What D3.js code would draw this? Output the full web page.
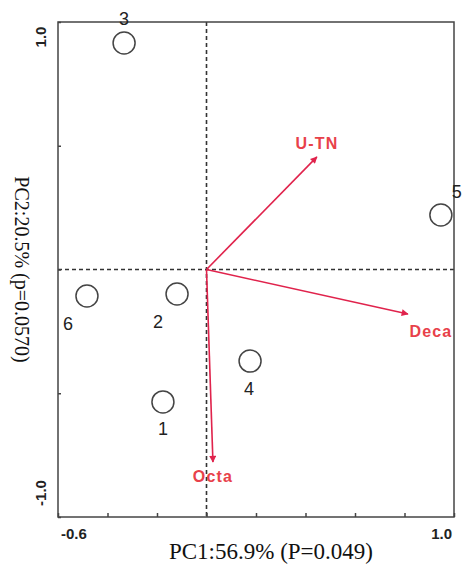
<!DOCTYPE html>
<html>
<head>
<meta charset="utf-8">
<script src="https://cdn.jsdelivr.net/npm/d3@7"></script>
<style>
  body { margin: 0; background: #fff; }
</style>
</head>
<body>
<div id="chart"></div>
<script>
// sample scores (PC1, PC2)
const sampleIds = ['1', '2', '3', '4', '5', '6'];
const samplePC1 = [-0.176, -0.119, -0.333, 0.176, 0.947, -0.483];
const samplePC2 = [-0.535, -0.099, 0.915, -0.37, 0.22, -0.107];

// environmental vectors
const vectorNames = ['U-TN', 'Deca', 'Octa'];
const vectorPC1 = [0.446, 0.814, 0.026];
const vectorPC2 = [0.455, -0.18, -0.778];

const xTicks = [-0.6, -0.4, -0.2, 0, 0.2, 0.4, 0.6, 0.8, 1.0];
const yTicks = [-1.0, -0.5, 0, 0.5, 1.0];
const xTickLabels = ['-0.6', '1.0'];
const yTickLabels = ['-1.0', '1.0'];

const width = 462, height = 565;
const margin = { top: 22, right: 8, bottom: 48, left: 58 };

const svg = d3.select('#chart').append('svg')
  .attr('width', width)
  .attr('height', height);

const x = d3.scaleLinear().domain([-0.6, 1.0]).range([margin.left, width - margin.right]);
const y = d3.scaleLinear().domain([-1.0, 1.0]).range([height - margin.bottom, margin.top]);

const red = '#e0234c';
const sans = 'Liberation Sans, Arial, sans-serif';
const serif = 'Liberation Serif, Times New Roman, serif';

// dashed zero lines
svg.append('line')
  .attr('x1', x(0)).attr('x2', x(0))
  .attr('y1', y(1)).attr('y2', y(-1))
  .attr('stroke', '#333').attr('stroke-width', 1.6)
  .attr('stroke-dasharray', '4,3');
svg.append('line')
  .attr('x1', x(-0.6)).attr('x2', x(1))
  .attr('y1', y(0)).attr('y2', y(0))
  .attr('stroke', '#333').attr('stroke-width', 1.6)
  .attr('stroke-dasharray', '4,3');

// frame
svg.append('rect')
  .attr('x', x(-0.6)).attr('y', y(1))
  .attr('width', x(1) - x(-0.6)).attr('height', y(-1) - y(1))
  .attr('fill', 'none').attr('stroke', '#444').attr('stroke-width', 1.5);

// axes (inner ticks, labels drawn separately)
svg.append('g')
  .attr('transform', `translate(0,${y(-1)})`)
  .call(d3.axisTop(x).tickValues(xTicks).tickSize(4).tickFormat(''))
  .call(g => g.select('.domain').remove())
  .selectAll('line').attr('stroke', '#444').attr('stroke-width', 1.5);

svg.append('g')
  .attr('transform', `translate(${x(-0.6)},0)`)
  .call(d3.axisRight(y).tickValues(yTicks).tickSize(3).tickFormat(''))
  .call(g => g.select('.domain').remove())
  .selectAll('line').attr('stroke', '#444').attr('stroke-width', 1.5);

// tick labels
svg.append('text')
  .attr('x', x(-0.6) + 3).attr('y', y(-1) + 22)
  .attr('font-family', sans)
  .attr('font-weight', 'bold').attr('font-size', 15).attr('fill', '#222')
  .text(xTickLabels[0]);
svg.append('text')
  .attr('x', x(1) - 2).attr('y', y(-1) + 22)
  .attr('text-anchor', 'end')
  .attr('font-family', sans)
  .attr('font-weight', 'bold').attr('font-size', 15).attr('fill', '#222')
  .text(xTickLabels[1]);
svg.append('text')
  .attr('transform', `translate(${x(-0.6) - 12},${y(-1) - 24}) rotate(-90)`)
  .attr('text-anchor', 'middle')
  .attr('font-family', sans)
  .attr('font-weight', 'bold').attr('font-size', 15).attr('fill', '#222')
  .text(yTickLabels[0]);
svg.append('text')
  .attr('transform', `translate(${x(-0.6) - 12},${y(1) + 15}) rotate(-90)`)
  .attr('text-anchor', 'middle')
  .attr('font-family', sans)
  .attr('font-weight', 'bold').attr('font-size', 15).attr('fill', '#222')
  .text(yTickLabels[1]);

// axis titles
svg.append('text')
  .attr('x', 271).attr('y', 559)
  .attr('text-anchor', 'middle')
  .attr('font-family', serif)
  .attr('font-size', 23).attr('fill', '#111')
  .text('PC1:56.9% (P=0.049)');
svg.append('text')
  .attr('transform', `translate(15,${y(0)}) rotate(90)`)
  .attr('text-anchor', 'middle')
  .attr('font-family', serif)
  .attr('font-size', 20).attr('fill', '#111')
  .text('PC2:20.5% (p=0.0570)');

// arrows
svg.append('defs').append('marker')
  .attr('id', 'head')
  .attr('viewBox', '0 0 10 10')
  .attr('refX', 9).attr('refY', 5)
  .attr('markerWidth', 8).attr('markerHeight', 7)
  .attr('markerUnits', 'userSpaceOnUse')
  .attr('orient', 'auto')
  .append('path').attr('d', 'M0,0 L10,5 L0,10 Z').attr('fill', red);

const vectors = vectorNames.map((n, i) => ({ name: n, pc1: vectorPC1[i], pc2: vectorPC2[i] }));

svg.selectAll('.vec')
  .data(vectors)
  .enter()
  .append('line')
  .attr('x1', x(0)).attr('y1', y(0))
  .attr('x2', d => x(d.pc1)).attr('y2', d => y(d.pc2))
  .attr('stroke', red).attr('stroke-width', 1.6)
  .attr('marker-end', 'url(#head)');

const vecLabelOffset = { 'U-TN': [0, -8], 'Deca': [23, 23], 'Octa': [0, 20] };
svg.selectAll('.vlabel')
  .data(vectors)
  .enter()
  .append('text')
  .attr('x', d => x(d.pc1) + vecLabelOffset[d.name][0])
  .attr('y', d => y(d.pc2) + vecLabelOffset[d.name][1])
  .attr('text-anchor', 'middle')
  .attr('font-family', sans)
  .attr('font-weight', 'bold').attr('font-size', 16)
  .attr('letter-spacing', 1.2)
  .attr('fill', '#e8414a')
  .text(d => d.name);

// samples
const samples = sampleIds.map((id, i) => ({ id, pc1: samplePC1[i], pc2: samplePC2[i] }));

svg.selectAll('.pt')
  .data(samples)
  .enter()
  .append('circle')
  .attr('cx', d => x(d.pc1)).attr('cy', d => y(d.pc2))
  .attr('r', 11)
  .attr('fill', 'none').attr('stroke', '#444').attr('stroke-width', 1.5);

const ptLabelOffset = { '1': [0, 33], '2': [-19, 34], '3': [0, -18], '4': [-1, 34], '5': [16, -17], '6': [-19, 34] };
svg.selectAll('.plabel')
  .data(samples)
  .enter()
  .append('text')
  .attr('x', d => x(d.pc1) + ptLabelOffset[d.id][0])
  .attr('y', d => y(d.pc2) + ptLabelOffset[d.id][1])
  .attr('text-anchor', 'middle')
  .attr('font-family', sans)
  .attr('font-size', 18).attr('fill', '#222')
  .text(d => d.id);
</script>
</body>
</html>
